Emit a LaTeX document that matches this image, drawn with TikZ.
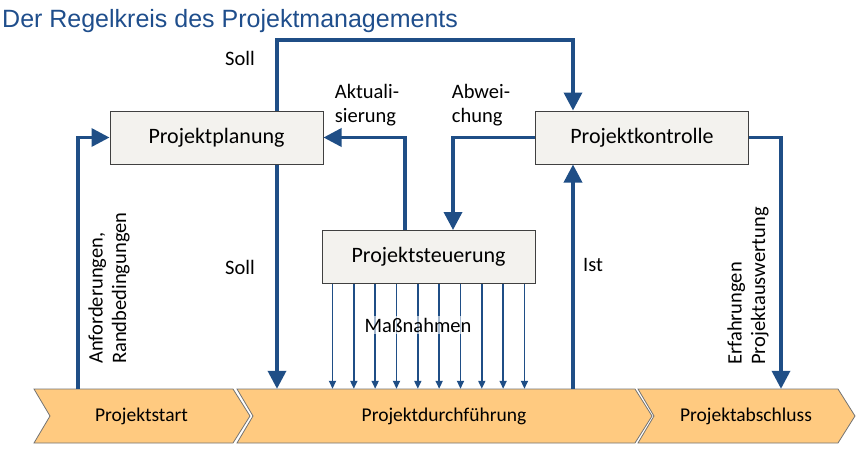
\documentclass[tikz,border=0pt]{standalone}
\usepackage{fontspec}
\setmainfont{Carlito}
\newfontfamily\titlefont{Liberation Sans}
\usetikzlibrary{arrows.meta,calc,positioning}
\definecolor{flowblue}{HTML}{1F4E86}
\definecolor{titleblue}{HTML}{1F4E8C}
\definecolor{boxfill}{HTML}{F3F2EE}
\definecolor{phasefill}{HTML}{FFCA80}
\begin{document}
\begin{tikzpicture}[x=1pt,y=-1pt,
  box/.style={draw=black!75, line width=1pt, fill=boxfill, minimum width=213pt, minimum height=53pt, inner sep=0pt, font=\fontsize{22}{26}\selectfont},
  phase/.style={draw=black!55, line width=0.8pt, fill=phasefill},
  phasetext/.style={minimum height=54pt, inner sep=0pt, font=\fontsize{19.5}{23}\selectfont},
  lbl/.style={inner sep=0pt, align=left, font=\fontsize{20.5}{23.5}\selectfont},
  flow/.style={draw=flowblue, line width=3.5pt, -{Triangle[length=18pt,width=18pt]}},
  thinflow/.style={draw=flowblue, line width=1.7pt, -{Triangle[length=8pt,width=7pt]}}]
\useasboundingbox (0,0) rectangle (860,448);
\node[anchor=base west, inner sep=0pt, text=titleblue, font=\titlefont\fontsize{25}{30}\selectfont] (title) at (2,27) {Der Regelkreis des Projektmanagements};
\node[box] (planung) at (216.5,137.5) {Projektplanung};
\node[box] (kontrolle) at (642,137.5) {Projektkontrolle};
\node[box] (steuerung) at (428.5,257) {Projektsteuerung};
\foreach \name/\xa/\xb/\txt in {start/34/233/Projektstart, durch/237/635/Projektdurchführung, abschluss/638/838/Projektabschluss}{
  \draw[phase] (\xa,389) -- (\xb,389) -- ++(17,27) -- (\xb,443) -- (\xa,443) -- ++(16,-27) -- cycle;
  \node[phasetext] (\name) at ({(\xa+\xb)/2+8},416) {\txt};
}
\coordinate (sollx) at (277,40);
\coordinate (istx) at (573,40);
\coordinate (anfx) at (78,0);
\coordinate (aktx) at (405,0);
\coordinate (abwx) at (453,0);
\coordinate (erfx) at (781,0);
\draw[flow] (sollx |- planung.north) -- (sollx) -- (istx) -- (istx |- kontrolle.north);
\draw[flow] (sollx |- planung.south) -- (sollx |- durch.north);
\draw[flow] (istx |- durch.north) -- (istx |- kontrolle.south);
\draw[flow] (anfx |- start.north) |- (planung.west);
\draw[flow] (aktx |- steuerung.north) |- (planung.east);
\draw[flow] (kontrolle.west) -| (abwx |- steuerung.north);
\draw[flow] (kontrolle.east) -| (erfx |- abschluss.north);
% Massnahmen
\foreach \i in {0,...,9}{
  \coordinate (m\i) at ([xshift={21.33*\i-96}]steuerung.south);
  \draw[thinflow] (m\i) -- (m\i |- durch.north);
}
\node[lbl, inner sep=2pt, fill=white, fill opacity=0.6, text opacity=1] (massn) at (418,325) {Maßnahmen};
\node[lbl] (soll1) at (240,58) {Soll};
\node[lbl] (soll2) at (240,267) {Soll};
\node[lbl] (ist) at (593,265) {Ist};
\node[lbl] (akt) at (367,105) {Aktuali-\\sierung};
\node[lbl] (abw) at (481,105) {Abwei-\\chung};
\node[lbl, rotate=90, anchor=west] (anf) at (109,364) {Anforderungen,\\Randbedingungen};
\node[lbl, rotate=90, anchor=west] (erf) at (748,365) {Erfahrungen\\Projektauswertung};
\end{tikzpicture}
\end{document}
